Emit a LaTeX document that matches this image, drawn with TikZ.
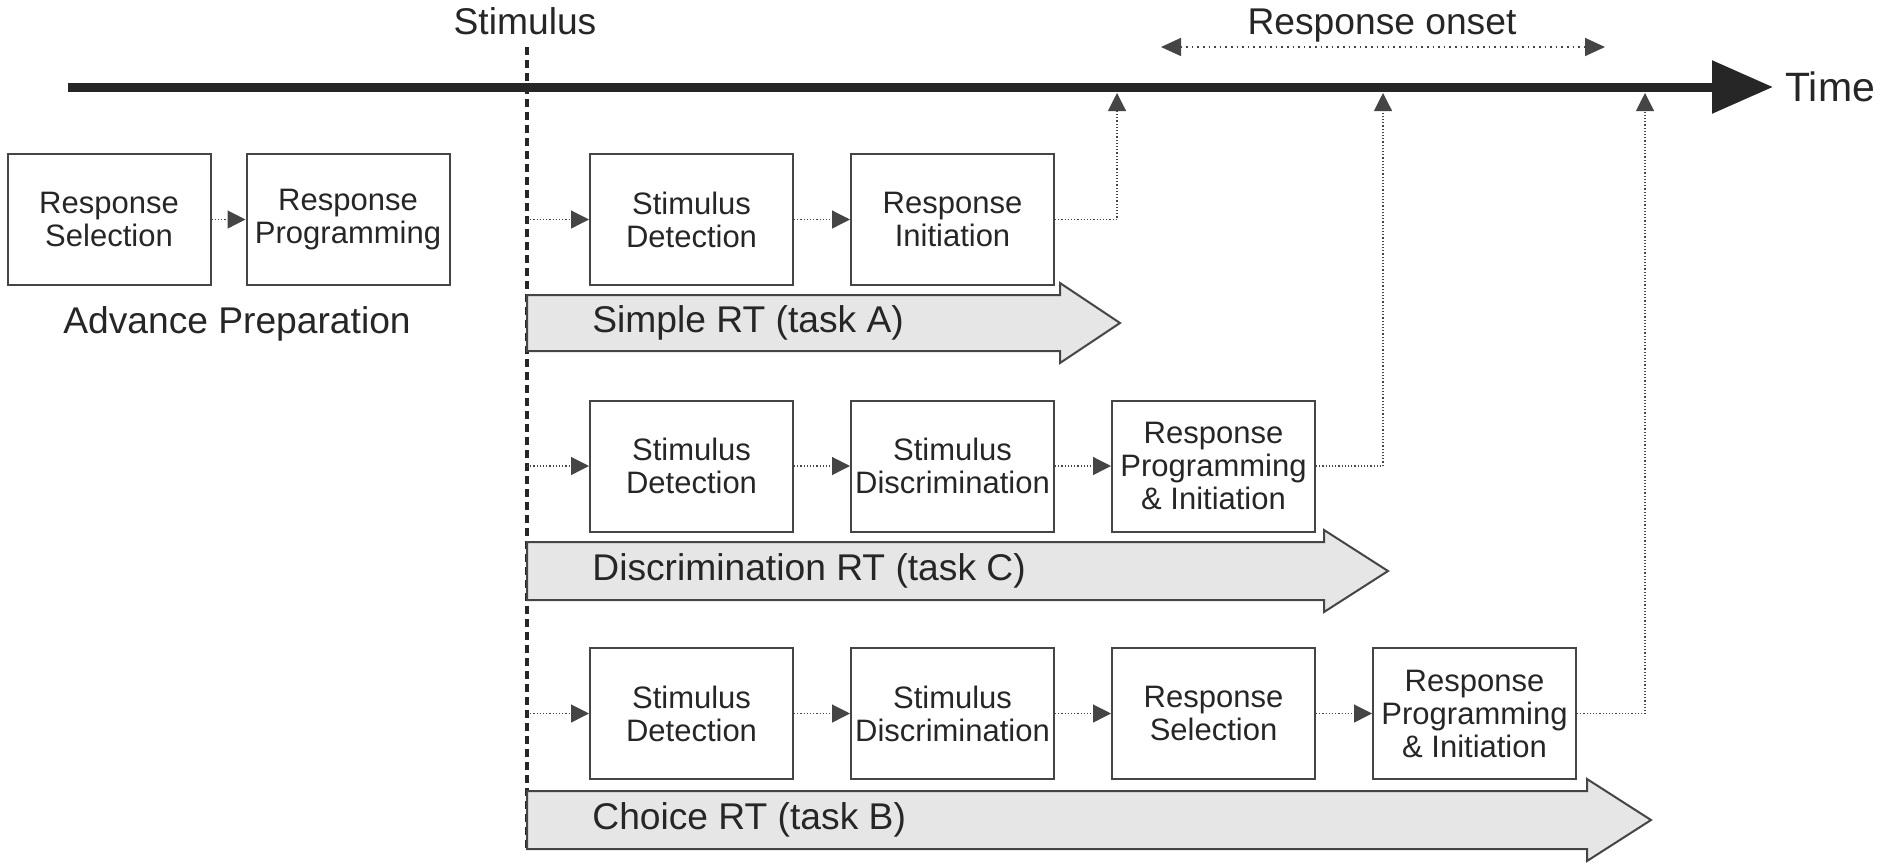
\documentclass[tikz,border=0pt]{standalone}
\usepackage{fontspec}
\setmainfont{Liberation Sans}
\usetikzlibrary{positioning,arrows.meta}

\definecolor{inkgray}{HTML}{262626}
\definecolor{linegray}{HTML}{454545}
\definecolor{fillgray}{HTML}{E6E6E6}

\tikzset{
  stage/.style={draw=linegray, line width=1pt, minimum width=101.5pt, minimum height=65.5pt,
    inner sep=0pt, align=center, text=inkgray, font=\fontsize{15.5}{16.5}\selectfont},
  link/.style={draw=linegray, line width=0.6pt, densely dotted, -{Triangle[length=9pt,width=9pt]}},
  rtarrow/.style={draw=linegray, line width=1pt, fill=fillgray},
  bigtext/.style={inner sep=0pt, text=inkgray, font=\fontsize{18.6}{22}\selectfont},
  axisline/.style={draw=inkgray, line width=4.5pt, -{Triangle[length=30.5pt,width=25.5pt]}},
}

\begin{document}
\begin{tikzpicture}[x=0.5pt, y=-0.5pt]
  \useasboundingbox (0,0) rectangle (1888,864);

  % time axis
  \coordinate (t_start) at (68,87);
  \coordinate (t_end) at (1773,87);
  \draw [axisline] (t_start) -- (t_end);
  \node [bigtext, anchor=west, font=\fontsize{20.5}{24}\selectfont] (time_lbl) at (1785,87) {Time};

  % stimulus onset
  \node [bigtext] (stim_lbl) at (525,21.5) {Stimulus};
  \coordinate (stim_top) at (527,47);
  \coordinate (stim_bot) at (527,852);
  \draw [draw=inkgray, line width=1.6pt, dash pattern=on 4pt off 2.5pt] (stim_top) -- (stim_bot);

  % response onset range
  \node [bigtext] (onset_lbl) at (1382,26) {Response onset};
  \coordinate (onset_l) at (1161,47);
  \coordinate (onset_r) at (1605,47);
  \draw [link, line width=0.8pt, dotted, {Triangle[length=10pt,width=9pt]}-{Triangle[length=10pt,width=9pt]}] (onset_l) -- (onset_r);

  % advance preparation
  \node [stage] (rs_pre) at (109,219.5) {Response\\Selection};
  \node [stage, right=17pt of rs_pre] (rp_pre) {Response\\Programming};
  \draw [link] (rs_pre) -- (rp_pre);
  \node [bigtext] (pre_lbl) at (237,324) {Advance Preparation};

  % simple RT (task A)
  \node [stage] (sd_a) at (691.5,219.5) {Stimulus\\Detection};
  \node [stage, right=28pt of sd_a] (ri_a) {Response\\Initiation};
  \coordinate (in_a) at (stim_top |- sd_a);
  \coordinate (on_a) at (1117,93);
  \draw [link] (in_a) -- (sd_a);
  \draw [link] (sd_a) -- (ri_a);
  \draw [link] (ri_a) -| (on_a);
  \draw [rtarrow] (527,295) -- (1060,295) -- (1060,283) -- (1120,323)
    -- (1060,363) -- (1060,351) -- (527,351) -- cycle;
  \node [bigtext, anchor=west] (rt_a) at (592,323) {Simple RT (task A)};

  % discrimination RT (task C)
  \node [stage] (sd_c) at (691.5,466) {Stimulus\\Detection};
  \node [stage, right=28pt of sd_c] (sdi_c) {Stimulus\\Discrimination};
  \node [stage, right=28pt of sdi_c] (rpi_c) {Response\\Programming\\\& Initiation};
  \coordinate (in_c) at (stim_top |- sd_c);
  \coordinate (on_c) at (1383,93);
  \draw [link] (in_c) -- (sd_c);
  \draw [link] (sd_c) -- (sdi_c);
  \draw [link] (sdi_c) -- (rpi_c);
  \draw [link] (rpi_c) -| (on_c);
  \draw [rtarrow] (527,542) -- (1324,542) -- (1324,530) -- (1388,571)
    -- (1324,612) -- (1324,600) -- (527,600) -- cycle;
  \node [bigtext, anchor=west] (rt_c) at (592,571) {Discrimination RT (task C)};

  % choice RT (task B)
  \node [stage] (sd_b) at (691.5,713.5) {Stimulus\\Detection};
  \node [stage, right=28pt of sd_b] (sdi_b) {Stimulus\\Discrimination};
  \node [stage, right=28pt of sdi_b] (rs_b) {Response\\Selection};
  \node [stage, right=28pt of rs_b] (rpi_b) {Response\\Programming\\\& Initiation};
  \coordinate (in_b) at (stim_top |- sd_b);
  \coordinate (on_b) at (1645,93);
  \draw [link] (in_b) -- (sd_b);
  \draw [link] (sd_b) -- (sdi_b);
  \draw [link] (sdi_b) -- (rs_b);
  \draw [link] (rs_b) -- (rpi_b);
  \draw [link] (rpi_b) -| (on_b);
  \draw [rtarrow] (527,791) -- (1587,791) -- (1587,779) -- (1651,820)
    -- (1587,861) -- (1587,849) -- (527,849) -- cycle;
  \node [bigtext, anchor=west] (rt_b) at (592,820) {Choice RT (task B)};
\end{tikzpicture}
\end{document}
